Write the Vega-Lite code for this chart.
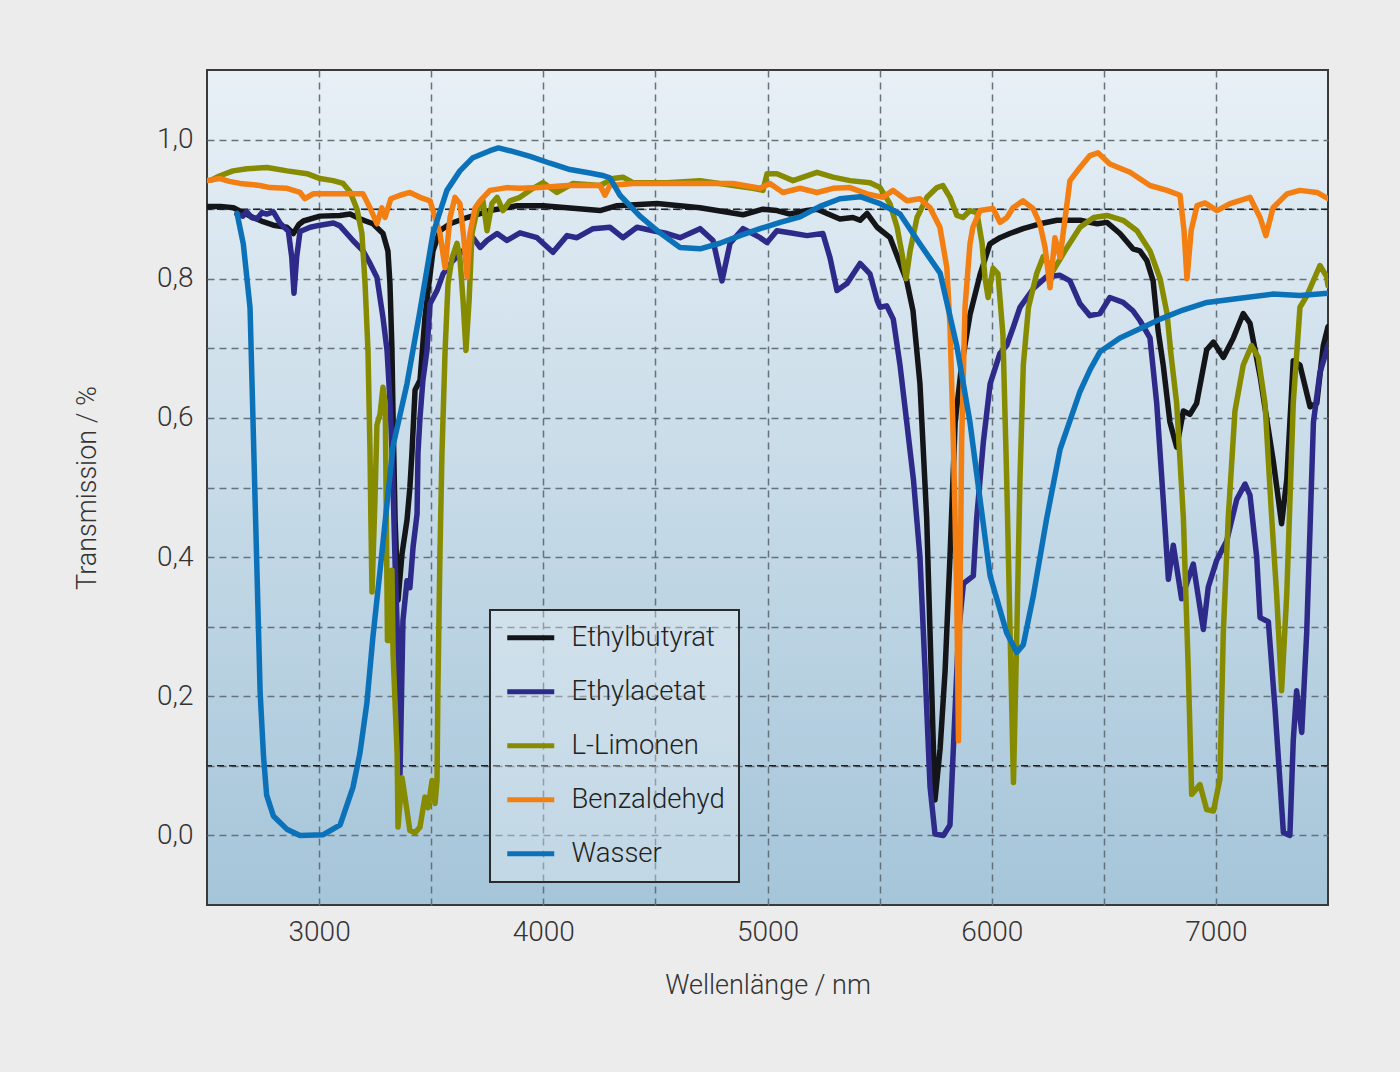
{
  "$schema": "https://vega.github.io/schema/vega-lite/v6.json",
  "width": 1121,
  "height": 835,
  "autosize": {"type": "none"},
  "padding": {"left": 207, "top": 70, "right": 72, "bottom": 167},
  "background": "#ececec",
  "config": {
    "font": "Roboto",
    "view": {
      "stroke": "#3a3a3a",
      "strokeWidth": 2,
      "fill": {"gradient": "linear", "x1": 0, "y1": 0, "x2": 0, "y2": 1,
        "stops": [{"offset": 0, "color": "#e8f0f6"}, {"offset": 1, "color": "#a5c5d9"}]}
    },
    "axis": {
      "domain": false,
      "ticks": false,
      "grid": true,
      "gridColor": "#66727b",
      "gridDash": [7, 5],
      "gridWidth": 1.5,
      "labelFont": "Roboto",
      "labelFontSize": 28,
      "labelFontWeight": 300,
      "labelColor": "#333333",
      "titleFont": "Roboto",
      "titleFontSize": 27,
      "titleFontWeight": 300,
      "titleColor": "#333333"
    },
    "legend": {
      "orient": "none",
      "legendX": 283,
      "legendY": 540,
      "symbolType": "M-2.35,0H2.35",
      "symbolSize": 400,
      "symbolStrokeWidth": 5,
      "symbolOffset": 13,
      "labelFont": "Roboto",
      "labelFontSize": 27.5,
      "labelFontWeight": 300,
      "labelColor": "#222222",
      "labelOffset": 27,
      "padding": 14,
      "rowPadding": 25,
      "strokeColor": "#2a2a2a",
      "strokeWidth": 2,
      "fillColor": "rgba(255,255,255,0.3)"
    }
  },
  "data": {
    "values": [
      {"s":"Ethylbutyrat","x":2500,"y":0.904},{"s":"Ethylbutyrat","x":2560,"y":0.904},{"s":"Ethylbutyrat","x":2618,"y":0.902},{"s":"Ethylbutyrat","x":2692,"y":0.89},{"s":"Ethylbutyrat","x":2750,"y":0.882},{"s":"Ethylbutyrat","x":2796,"y":0.877},{"s":"Ethylbutyrat","x":2856,"y":0.874},{"s":"Ethylbutyrat","x":2885,"y":0.865},{"s":"Ethylbutyrat","x":2910,"y":0.878},{"s":"Ethylbutyrat","x":2930,"y":0.883},{"s":"Ethylbutyrat","x":3004,"y":0.89},{"s":"Ethylbutyrat","x":3093,"y":0.891},{"s":"Ethylbutyrat","x":3138,"y":0.893},{"s":"Ethylbutyrat","x":3182,"y":0.886},{"s":"Ethylbutyrat","x":3240,"y":0.879},{"s":"Ethylbutyrat","x":3285,"y":0.865},{"s":"Ethylbutyrat","x":3307,"y":0.84},{"s":"Ethylbutyrat","x":3316,"y":0.793},{"s":"Ethylbutyrat","x":3325,"y":0.697},{"s":"Ethylbutyrat","x":3330,"y":0.6},{"s":"Ethylbutyrat","x":3339,"y":0.453},{"s":"Ethylbutyrat","x":3352,"y":0.338},{"s":"Ethylbutyrat","x":3370,"y":0.405},{"s":"Ethylbutyrat","x":3392,"y":0.453},{"s":"Ethylbutyrat","x":3405,"y":0.5},{"s":"Ethylbutyrat","x":3414,"y":0.549},{"s":"Ethylbutyrat","x":3428,"y":0.64},{"s":"Ethylbutyrat","x":3450,"y":0.654},{"s":"Ethylbutyrat","x":3472,"y":0.744},{"s":"Ethylbutyrat","x":3486,"y":0.783},{"s":"Ethylbutyrat","x":3508,"y":0.84},{"s":"Ethylbutyrat","x":3539,"y":0.869},{"s":"Ethylbutyrat","x":3584,"y":0.879},{"s":"Ethylbutyrat","x":3660,"y":0.888},{"s":"Ethylbutyrat","x":3762,"y":0.898},{"s":"Ethylbutyrat","x":3883,"y":0.905},{"s":"Ethylbutyrat","x":3999,"y":0.905},{"s":"Ethylbutyrat","x":4253,"y":0.898},{"s":"Ethylbutyrat","x":4329,"y":0.905},{"s":"Ethylbutyrat","x":4507,"y":0.908},{"s":"Ethylbutyrat","x":4699,"y":0.902},{"s":"Ethylbutyrat","x":4891,"y":0.892},{"s":"Ethylbutyrat","x":4980,"y":0.9},{"s":"Ethylbutyrat","x":5042,"y":0.898},{"s":"Ethylbutyrat","x":5100,"y":0.893},{"s":"Ethylbutyrat","x":5176,"y":0.898},{"s":"Ethylbutyrat","x":5221,"y":0.9},{"s":"Ethylbutyrat","x":5323,"y":0.886},{"s":"Ethylbutyrat","x":5381,"y":0.888},{"s":"Ethylbutyrat","x":5413,"y":0.884},{"s":"Ethylbutyrat","x":5444,"y":0.894},{"s":"Ethylbutyrat","x":5489,"y":0.874},{"s":"Ethylbutyrat","x":5547,"y":0.859},{"s":"Ethylbutyrat","x":5591,"y":0.822},{"s":"Ethylbutyrat","x":5621,"y":0.797},{"s":"Ethylbutyrat","x":5649,"y":0.754},{"s":"Ethylbutyrat","x":5680,"y":0.649},{"s":"Ethylbutyrat","x":5710,"y":0.456},{"s":"Ethylbutyrat","x":5725,"y":0.291},{"s":"Ethylbutyrat","x":5740,"y":0.125},{"s":"Ethylbutyrat","x":5747,"y":0.051},{"s":"Ethylbutyrat","x":5770,"y":0.125},{"s":"Ethylbutyrat","x":5792,"y":0.236},{"s":"Ethylbutyrat","x":5814,"y":0.401},{"s":"Ethylbutyrat","x":5837,"y":0.594},{"s":"Ethylbutyrat","x":5866,"y":0.676},{"s":"Ethylbutyrat","x":5903,"y":0.748},{"s":"Ethylbutyrat","x":5948,"y":0.806},{"s":"Ethylbutyrat","x":5992,"y":0.85},{"s":"Ethylbutyrat","x":6037,"y":0.859},{"s":"Ethylbutyrat","x":6081,"y":0.865},{"s":"Ethylbutyrat","x":6140,"y":0.872},{"s":"Ethylbutyrat","x":6215,"y":0.879},{"s":"Ethylbutyrat","x":6291,"y":0.884},{"s":"Ethylbutyrat","x":6394,"y":0.884},{"s":"Ethylbutyrat","x":6470,"y":0.879},{"s":"Ethylbutyrat","x":6514,"y":0.881},{"s":"Ethylbutyrat","x":6572,"y":0.865},{"s":"Ethylbutyrat","x":6630,"y":0.843},{"s":"Ethylbutyrat","x":6661,"y":0.84},{"s":"Ethylbutyrat","x":6692,"y":0.826},{"s":"Ethylbutyrat","x":6720,"y":0.797},{"s":"Ethylbutyrat","x":6742,"y":0.726},{"s":"Ethylbutyrat","x":6765,"y":0.676},{"s":"Ethylbutyrat","x":6795,"y":0.594},{"s":"Ethylbutyrat","x":6825,"y":0.558},{"s":"Ethylbutyrat","x":6855,"y":0.61},{"s":"Ethylbutyrat","x":6884,"y":0.605},{"s":"Ethylbutyrat","x":6914,"y":0.621},{"s":"Ethylbutyrat","x":6959,"y":0.698},{"s":"Ethylbutyrat","x":6989,"y":0.709},{"s":"Ethylbutyrat","x":7033,"y":0.687},{"s":"Ethylbutyrat","x":7078,"y":0.715},{"s":"Ethylbutyrat","x":7122,"y":0.75},{"s":"Ethylbutyrat","x":7152,"y":0.736},{"s":"Ethylbutyrat","x":7197,"y":0.66},{"s":"Ethylbutyrat","x":7256,"y":0.538},{"s":"Ethylbutyrat","x":7293,"y":0.448},{"s":"Ethylbutyrat","x":7316,"y":0.511},{"s":"Ethylbutyrat","x":7345,"y":0.682},{"s":"Ethylbutyrat","x":7375,"y":0.676},{"s":"Ethylbutyrat","x":7420,"y":0.616},{"s":"Ethylbutyrat","x":7450,"y":0.621},{"s":"Ethylbutyrat","x":7479,"y":0.704},{"s":"Ethylbutyrat","x":7500,"y":0.731},

      {"s":"Ethylacetat","x":2633,"y":0.893},{"s":"Ethylacetat","x":2660,"y":0.89},{"s":"Ethylacetat","x":2677,"y":0.896},{"s":"Ethylacetat","x":2700,"y":0.888},{"s":"Ethylacetat","x":2722,"y":0.886},{"s":"Ethylacetat","x":2745,"y":0.895},{"s":"Ethylacetat","x":2766,"y":0.893},{"s":"Ethylacetat","x":2796,"y":0.896},{"s":"Ethylacetat","x":2826,"y":0.88},{"s":"Ethylacetat","x":2863,"y":0.868},{"s":"Ethylacetat","x":2878,"y":0.831},{"s":"Ethylacetat","x":2888,"y":0.779},{"s":"Ethylacetat","x":2900,"y":0.831},{"s":"Ethylacetat","x":2915,"y":0.868},{"s":"Ethylacetat","x":2960,"y":0.874},{"s":"Ethylacetat","x":3004,"y":0.877},{"s":"Ethylacetat","x":3064,"y":0.88},{"s":"Ethylacetat","x":3093,"y":0.876},{"s":"Ethylacetat","x":3151,"y":0.855},{"s":"Ethylacetat","x":3196,"y":0.84},{"s":"Ethylacetat","x":3227,"y":0.822},{"s":"Ethylacetat","x":3258,"y":0.802},{"s":"Ethylacetat","x":3285,"y":0.744},{"s":"Ethylacetat","x":3303,"y":0.697},{"s":"Ethylacetat","x":3316,"y":0.625},{"s":"Ethylacetat","x":3325,"y":0.553},{"s":"Ethylacetat","x":3330,"y":0.5},{"s":"Ethylacetat","x":3339,"y":0.391},{"s":"Ethylacetat","x":3352,"y":0.261},{"s":"Ethylacetat","x":3361,"y":0.089},{"s":"Ethylacetat","x":3374,"y":0.309},{"s":"Ethylacetat","x":3392,"y":0.366},{"s":"Ethylacetat","x":3405,"y":0.356},{"s":"Ethylacetat","x":3419,"y":0.414},{"s":"Ethylacetat","x":3437,"y":0.462},{"s":"Ethylacetat","x":3441,"y":0.549},{"s":"Ethylacetat","x":3450,"y":0.6},{"s":"Ethylacetat","x":3463,"y":0.654},{"s":"Ethylacetat","x":3481,"y":0.697},{"s":"Ethylacetat","x":3495,"y":0.764},{"s":"Ethylacetat","x":3526,"y":0.783},{"s":"Ethylacetat","x":3553,"y":0.807},{"s":"Ethylacetat","x":3597,"y":0.826},{"s":"Ethylacetat","x":3642,"y":0.84},{"s":"Ethylacetat","x":3686,"y":0.859},{"s":"Ethylacetat","x":3718,"y":0.845},{"s":"Ethylacetat","x":3749,"y":0.855},{"s":"Ethylacetat","x":3794,"y":0.865},{"s":"Ethylacetat","x":3838,"y":0.855},{"s":"Ethylacetat","x":3896,"y":0.866},{"s":"Ethylacetat","x":3972,"y":0.859},{"s":"Ethylacetat","x":4043,"y":0.838},{"s":"Ethylacetat","x":4106,"y":0.862},{"s":"Ethylacetat","x":4150,"y":0.859},{"s":"Ethylacetat","x":4222,"y":0.872},{"s":"Ethylacetat","x":4297,"y":0.874},{"s":"Ethylacetat","x":4355,"y":0.859},{"s":"Ethylacetat","x":4418,"y":0.874},{"s":"Ethylacetat","x":4489,"y":0.869},{"s":"Ethylacetat","x":4552,"y":0.865},{"s":"Ethylacetat","x":4610,"y":0.859},{"s":"Ethylacetat","x":4699,"y":0.872},{"s":"Ethylacetat","x":4757,"y":0.855},{"s":"Ethylacetat","x":4797,"y":0.797},{"s":"Ethylacetat","x":4833,"y":0.851},{"s":"Ethylacetat","x":4891,"y":0.872},{"s":"Ethylacetat","x":4967,"y":0.859},{"s":"Ethylacetat","x":4998,"y":0.852},{"s":"Ethylacetat","x":5042,"y":0.869},{"s":"Ethylacetat","x":5100,"y":0.866},{"s":"Ethylacetat","x":5176,"y":0.862},{"s":"Ethylacetat","x":5247,"y":0.865},{"s":"Ethylacetat","x":5279,"y":0.83},{"s":"Ethylacetat","x":5310,"y":0.783},{"s":"Ethylacetat","x":5354,"y":0.793},{"s":"Ethylacetat","x":5413,"y":0.822},{"s":"Ethylacetat","x":5457,"y":0.807},{"s":"Ethylacetat","x":5489,"y":0.769},{"s":"Ethylacetat","x":5502,"y":0.759},{"s":"Ethylacetat","x":5532,"y":0.761},{"s":"Ethylacetat","x":5561,"y":0.742},{"s":"Ethylacetat","x":5591,"y":0.676},{"s":"Ethylacetat","x":5621,"y":0.594},{"s":"Ethylacetat","x":5651,"y":0.511},{"s":"Ethylacetat","x":5680,"y":0.4},{"s":"Ethylacetat","x":5703,"y":0.236},{"s":"Ethylacetat","x":5725,"y":0.07},{"s":"Ethylacetat","x":5747,"y":0.002},{"s":"Ethylacetat","x":5785,"y":0.0},{"s":"Ethylacetat","x":5814,"y":0.015},{"s":"Ethylacetat","x":5829,"y":0.125},{"s":"Ethylacetat","x":5852,"y":0.291},{"s":"Ethylacetat","x":5874,"y":0.362},{"s":"Ethylacetat","x":5918,"y":0.373},{"s":"Ethylacetat","x":5933,"y":0.456},{"s":"Ethylacetat","x":5963,"y":0.566},{"s":"Ethylacetat","x":5993,"y":0.649},{"s":"Ethylacetat","x":6037,"y":0.693},{"s":"Ethylacetat","x":6067,"y":0.704},{"s":"Ethylacetat","x":6097,"y":0.731},{"s":"Ethylacetat","x":6126,"y":0.759},{"s":"Ethylacetat","x":6186,"y":0.786},{"s":"Ethylacetat","x":6245,"y":0.803},{"s":"Ethylacetat","x":6305,"y":0.805},{"s":"Ethylacetat","x":6349,"y":0.797},{"s":"Ethylacetat","x":6394,"y":0.764},{"s":"Ethylacetat","x":6438,"y":0.747},{"s":"Ethylacetat","x":6483,"y":0.75},{"s":"Ethylacetat","x":6527,"y":0.773},{"s":"Ethylacetat","x":6586,"y":0.766},{"s":"Ethylacetat","x":6630,"y":0.754},{"s":"Ethylacetat","x":6661,"y":0.74},{"s":"Ethylacetat","x":6706,"y":0.715},{"s":"Ethylacetat","x":6736,"y":0.621},{"s":"Ethylacetat","x":6765,"y":0.483},{"s":"Ethylacetat","x":6788,"y":0.368},{"s":"Ethylacetat","x":6810,"y":0.417},{"s":"Ethylacetat","x":6847,"y":0.34},{"s":"Ethylacetat","x":6899,"y":0.39},{"s":"Ethylacetat","x":6944,"y":0.296},{"s":"Ethylacetat","x":6966,"y":0.357},{"s":"Ethylacetat","x":7003,"y":0.395},{"s":"Ethylacetat","x":7048,"y":0.423},{"s":"Ethylacetat","x":7093,"y":0.483},{"s":"Ethylacetat","x":7130,"y":0.505},{"s":"Ethylacetat","x":7152,"y":0.489},{"s":"Ethylacetat","x":7182,"y":0.4},{"s":"Ethylacetat","x":7197,"y":0.313},{"s":"Ethylacetat","x":7234,"y":0.307},{"s":"Ethylacetat","x":7264,"y":0.181},{"s":"Ethylacetat","x":7301,"y":0.004},{"s":"Ethylacetat","x":7330,"y":0.0},{"s":"Ethylacetat","x":7345,"y":0.136},{"s":"Ethylacetat","x":7360,"y":0.208},{"s":"Ethylacetat","x":7383,"y":0.148},{"s":"Ethylacetat","x":7405,"y":0.291},{"s":"Ethylacetat","x":7435,"y":0.594},{"s":"Ethylacetat","x":7464,"y":0.665},{"s":"Ethylacetat","x":7500,"y":0.704},

      {"s":"L-Limonen","x":2520,"y":0.942},{"s":"L-Limonen","x":2558,"y":0.948},{"s":"L-Limonen","x":2616,"y":0.955},{"s":"L-Limonen","x":2678,"y":0.958},{"s":"L-Limonen","x":2768,"y":0.96},{"s":"L-Limonen","x":2857,"y":0.955},{"s":"L-Limonen","x":2946,"y":0.951},{"s":"L-Limonen","x":3004,"y":0.944},{"s":"L-Limonen","x":3062,"y":0.941},{"s":"L-Limonen","x":3107,"y":0.937},{"s":"L-Limonen","x":3138,"y":0.925},{"s":"L-Limonen","x":3169,"y":0.9},{"s":"L-Limonen","x":3191,"y":0.865},{"s":"L-Limonen","x":3205,"y":0.793},{"s":"L-Limonen","x":3218,"y":0.697},{"s":"L-Limonen","x":3227,"y":0.553},{"s":"L-Limonen","x":3231,"y":0.453},{"s":"L-Limonen","x":3236,"y":0.35},{"s":"L-Limonen","x":3249,"y":0.481},{"s":"L-Limonen","x":3258,"y":0.59},{"s":"L-Limonen","x":3272,"y":0.606},{"s":"L-Limonen","x":3285,"y":0.644},{"s":"L-Limonen","x":3295,"y":0.62},{"s":"L-Limonen","x":3300,"y":0.45},{"s":"L-Limonen","x":3305,"y":0.28},{"s":"L-Limonen","x":3316,"y":0.28},{"s":"L-Limonen","x":3325,"y":0.381},{"s":"L-Limonen","x":3330,"y":0.261},{"s":"L-Limonen","x":3348,"y":0.118},{"s":"L-Limonen","x":3352,"y":0.012},{"s":"L-Limonen","x":3370,"y":0.083},{"s":"L-Limonen","x":3383,"y":0.055},{"s":"L-Limonen","x":3405,"y":0.007},{"s":"L-Limonen","x":3428,"y":0.004},{"s":"L-Limonen","x":3450,"y":0.012},{"s":"L-Limonen","x":3472,"y":0.055},{"s":"L-Limonen","x":3486,"y":0.04},{"s":"L-Limonen","x":3504,"y":0.079},{"s":"L-Limonen","x":3517,"y":0.046},{"s":"L-Limonen","x":3526,"y":0.079},{"s":"L-Limonen","x":3530,"y":0.213},{"s":"L-Limonen","x":3539,"y":0.405},{"s":"L-Limonen","x":3548,"y":0.549},{"s":"L-Limonen","x":3562,"y":0.697},{"s":"L-Limonen","x":3575,"y":0.793},{"s":"L-Limonen","x":3593,"y":0.83},{"s":"L-Limonen","x":3615,"y":0.851},{"s":"L-Limonen","x":3628,"y":0.83},{"s":"L-Limonen","x":3642,"y":0.769},{"s":"L-Limonen","x":3655,"y":0.697},{"s":"L-Limonen","x":3669,"y":0.769},{"s":"L-Limonen","x":3682,"y":0.865},{"s":"L-Limonen","x":3704,"y":0.898},{"s":"L-Limonen","x":3731,"y":0.912},{"s":"L-Limonen","x":3749,"y":0.869},{"s":"L-Limonen","x":3771,"y":0.908},{"s":"L-Limonen","x":3794,"y":0.917},{"s":"L-Limonen","x":3820,"y":0.898},{"s":"L-Limonen","x":3851,"y":0.912},{"s":"L-Limonen","x":3896,"y":0.917},{"s":"L-Limonen","x":3954,"y":0.93},{"s":"L-Limonen","x":3999,"y":0.938},{"s":"L-Limonen","x":4061,"y":0.924},{"s":"L-Limonen","x":4133,"y":0.937},{"s":"L-Limonen","x":4253,"y":0.934},{"s":"L-Limonen","x":4311,"y":0.944},{"s":"L-Limonen","x":4355,"y":0.946},{"s":"L-Limonen","x":4400,"y":0.938},{"s":"L-Limonen","x":4552,"y":0.938},{"s":"L-Limonen","x":4699,"y":0.941},{"s":"L-Limonen","x":4846,"y":0.934},{"s":"L-Limonen","x":4935,"y":0.93},{"s":"L-Limonen","x":4980,"y":0.927},{"s":"L-Limonen","x":4998,"y":0.951},{"s":"L-Limonen","x":5042,"y":0.951},{"s":"L-Limonen","x":5114,"y":0.941},{"s":"L-Limonen","x":5221,"y":0.953},{"s":"L-Limonen","x":5292,"y":0.946},{"s":"L-Limonen","x":5368,"y":0.941},{"s":"L-Limonen","x":5457,"y":0.938},{"s":"L-Limonen","x":5502,"y":0.931},{"s":"L-Limonen","x":5546,"y":0.908},{"s":"L-Limonen","x":5578,"y":0.874},{"s":"L-Limonen","x":5600,"y":0.836},{"s":"L-Limonen","x":5618,"y":0.8},{"s":"L-Limonen","x":5636,"y":0.84},{"s":"L-Limonen","x":5667,"y":0.888},{"s":"L-Limonen","x":5711,"y":0.917},{"s":"L-Limonen","x":5756,"y":0.931},{"s":"L-Limonen","x":5782,"y":0.934},{"s":"L-Limonen","x":5814,"y":0.917},{"s":"L-Limonen","x":5845,"y":0.891},{"s":"L-Limonen","x":5872,"y":0.888},{"s":"L-Limonen","x":5903,"y":0.898},{"s":"L-Limonen","x":5934,"y":0.895},{"s":"L-Limonen","x":5957,"y":0.851},{"s":"L-Limonen","x":5970,"y":0.802},{"s":"L-Limonen","x":5984,"y":0.773},{"s":"L-Limonen","x":6006,"y":0.815},{"s":"L-Limonen","x":6028,"y":0.807},{"s":"L-Limonen","x":6050,"y":0.72},{"s":"L-Limonen","x":6067,"y":0.511},{"s":"L-Limonen","x":6082,"y":0.291},{"s":"L-Limonen","x":6097,"y":0.076},{"s":"L-Limonen","x":6112,"y":0.291},{"s":"L-Limonen","x":6126,"y":0.511},{"s":"L-Limonen","x":6141,"y":0.676},{"s":"L-Limonen","x":6164,"y":0.759},{"s":"L-Limonen","x":6201,"y":0.808},{"s":"L-Limonen","x":6230,"y":0.832},{"s":"L-Limonen","x":6275,"y":0.812},{"s":"L-Limonen","x":6336,"y":0.845},{"s":"L-Limonen","x":6394,"y":0.874},{"s":"L-Limonen","x":6455,"y":0.888},{"s":"L-Limonen","x":6514,"y":0.891},{"s":"L-Limonen","x":6586,"y":0.884},{"s":"L-Limonen","x":6648,"y":0.869},{"s":"L-Limonen","x":6706,"y":0.84},{"s":"L-Limonen","x":6751,"y":0.8},{"s":"L-Limonen","x":6782,"y":0.75},{"s":"L-Limonen","x":6800,"y":0.69},{"s":"L-Limonen","x":6825,"y":0.621},{"s":"L-Limonen","x":6855,"y":0.456},{"s":"L-Limonen","x":6877,"y":0.236},{"s":"L-Limonen","x":6892,"y":0.059},{"s":"L-Limonen","x":6929,"y":0.073},{"s":"L-Limonen","x":6959,"y":0.037},{"s":"L-Limonen","x":6989,"y":0.035},{"s":"L-Limonen","x":7018,"y":0.081},{"s":"L-Limonen","x":7033,"y":0.291},{"s":"L-Limonen","x":7055,"y":0.456},{"s":"L-Limonen","x":7085,"y":0.61},{"s":"L-Limonen","x":7122,"y":0.676},{"s":"L-Limonen","x":7159,"y":0.704},{"s":"L-Limonen","x":7189,"y":0.687},{"s":"L-Limonen","x":7219,"y":0.621},{"s":"L-Limonen","x":7249,"y":0.456},{"s":"L-Limonen","x":7271,"y":0.346},{"s":"L-Limonen","x":7293,"y":0.208},{"s":"L-Limonen","x":7316,"y":0.346},{"s":"L-Limonen","x":7345,"y":0.621},{"s":"L-Limonen","x":7375,"y":0.759},{"s":"L-Limonen","x":7405,"y":0.775},{"s":"L-Limonen","x":7464,"y":0.819},{"s":"L-Limonen","x":7494,"y":0.803},{"s":"L-Limonen","x":7500,"y":0.79},

      {"s":"Benzaldehyd","x":2500,"y":0.941},{"s":"Benzaldehyd","x":2558,"y":0.944},{"s":"Benzaldehyd","x":2600,"y":0.94},{"s":"Benzaldehyd","x":2647,"y":0.937},{"s":"Benzaldehyd","x":2736,"y":0.934},{"s":"Benzaldehyd","x":2781,"y":0.931},{"s":"Benzaldehyd","x":2857,"y":0.93},{"s":"Benzaldehyd","x":2915,"y":0.924},{"s":"Benzaldehyd","x":2937,"y":0.915},{"s":"Benzaldehyd","x":2973,"y":0.922},{"s":"Benzaldehyd","x":3062,"y":0.922},{"s":"Benzaldehyd","x":3151,"y":0.922},{"s":"Benzaldehyd","x":3196,"y":0.922},{"s":"Benzaldehyd","x":3227,"y":0.902},{"s":"Benzaldehyd","x":3258,"y":0.879},{"s":"Benzaldehyd","x":3280,"y":0.902},{"s":"Benzaldehyd","x":3294,"y":0.888},{"s":"Benzaldehyd","x":3320,"y":0.915},{"s":"Benzaldehyd","x":3361,"y":0.92},{"s":"Benzaldehyd","x":3405,"y":0.924},{"s":"Benzaldehyd","x":3450,"y":0.917},{"s":"Benzaldehyd","x":3495,"y":0.912},{"s":"Benzaldehyd","x":3508,"y":0.898},{"s":"Benzaldehyd","x":3539,"y":0.865},{"s":"Benzaldehyd","x":3562,"y":0.816},{"s":"Benzaldehyd","x":3584,"y":0.888},{"s":"Benzaldehyd","x":3606,"y":0.917},{"s":"Benzaldehyd","x":3628,"y":0.908},{"s":"Benzaldehyd","x":3645,"y":0.86},{"s":"Benzaldehyd","x":3660,"y":0.802},{"s":"Benzaldehyd","x":3673,"y":0.865},{"s":"Benzaldehyd","x":3696,"y":0.902},{"s":"Benzaldehyd","x":3718,"y":0.912},{"s":"Benzaldehyd","x":3762,"y":0.927},{"s":"Benzaldehyd","x":3838,"y":0.931},{"s":"Benzaldehyd","x":3896,"y":0.93},{"s":"Benzaldehyd","x":3985,"y":0.931},{"s":"Benzaldehyd","x":4106,"y":0.934},{"s":"Benzaldehyd","x":4253,"y":0.934},{"s":"Benzaldehyd","x":4275,"y":0.92},{"s":"Benzaldehyd","x":4297,"y":0.934},{"s":"Benzaldehyd","x":4400,"y":0.937},{"s":"Benzaldehyd","x":4552,"y":0.937},{"s":"Benzaldehyd","x":4699,"y":0.937},{"s":"Benzaldehyd","x":4846,"y":0.937},{"s":"Benzaldehyd","x":4967,"y":0.93},{"s":"Benzaldehyd","x":5011,"y":0.937},{"s":"Benzaldehyd","x":5069,"y":0.924},{"s":"Benzaldehyd","x":5145,"y":0.93},{"s":"Benzaldehyd","x":5221,"y":0.924},{"s":"Benzaldehyd","x":5292,"y":0.93},{"s":"Benzaldehyd","x":5368,"y":0.931},{"s":"Benzaldehyd","x":5444,"y":0.922},{"s":"Benzaldehyd","x":5515,"y":0.917},{"s":"Benzaldehyd","x":5560,"y":0.927},{"s":"Benzaldehyd","x":5622,"y":0.912},{"s":"Benzaldehyd","x":5680,"y":0.915},{"s":"Benzaldehyd","x":5725,"y":0.902},{"s":"Benzaldehyd","x":5769,"y":0.874},{"s":"Benzaldehyd","x":5800,"y":0.816},{"s":"Benzaldehyd","x":5814,"y":0.731},{"s":"Benzaldehyd","x":5829,"y":0.566},{"s":"Benzaldehyd","x":5844,"y":0.346},{"s":"Benzaldehyd","x":5852,"y":0.136},{"s":"Benzaldehyd","x":5859,"y":0.346},{"s":"Benzaldehyd","x":5866,"y":0.566},{"s":"Benzaldehyd","x":5881,"y":0.759},{"s":"Benzaldehyd","x":5903,"y":0.85},{"s":"Benzaldehyd","x":5916,"y":0.874},{"s":"Benzaldehyd","x":5948,"y":0.898},{"s":"Benzaldehyd","x":6006,"y":0.901},{"s":"Benzaldehyd","x":6037,"y":0.881},{"s":"Benzaldehyd","x":6068,"y":0.888},{"s":"Benzaldehyd","x":6095,"y":0.902},{"s":"Benzaldehyd","x":6140,"y":0.912},{"s":"Benzaldehyd","x":6184,"y":0.901},{"s":"Benzaldehyd","x":6215,"y":0.879},{"s":"Benzaldehyd","x":6238,"y":0.845},{"s":"Benzaldehyd","x":6260,"y":0.787},{"s":"Benzaldehyd","x":6282,"y":0.859},{"s":"Benzaldehyd","x":6305,"y":0.831},{"s":"Benzaldehyd","x":6349,"y":0.941},{"s":"Benzaldehyd","x":6394,"y":0.96},{"s":"Benzaldehyd","x":6438,"y":0.977},{"s":"Benzaldehyd","x":6474,"y":0.981},{"s":"Benzaldehyd","x":6527,"y":0.965},{"s":"Benzaldehyd","x":6617,"y":0.953},{"s":"Benzaldehyd","x":6706,"y":0.934},{"s":"Benzaldehyd","x":6782,"y":0.927},{"s":"Benzaldehyd","x":6840,"y":0.92},{"s":"Benzaldehyd","x":6858,"y":0.869},{"s":"Benzaldehyd","x":6871,"y":0.8},{"s":"Benzaldehyd","x":6890,"y":0.87},{"s":"Benzaldehyd","x":6916,"y":0.905},{"s":"Benzaldehyd","x":6951,"y":0.909},{"s":"Benzaldehyd","x":7005,"y":0.898},{"s":"Benzaldehyd","x":7063,"y":0.908},{"s":"Benzaldehyd","x":7152,"y":0.917},{"s":"Benzaldehyd","x":7197,"y":0.888},{"s":"Benzaldehyd","x":7223,"y":0.862},{"s":"Benzaldehyd","x":7255,"y":0.902},{"s":"Benzaldehyd","x":7317,"y":0.922},{"s":"Benzaldehyd","x":7375,"y":0.927},{"s":"Benzaldehyd","x":7451,"y":0.924},{"s":"Benzaldehyd","x":7500,"y":0.915},

      {"s":"Wasser","x":2634,"y":0.894},{"s":"Wasser","x":2662,"y":0.85},{"s":"Wasser","x":2692,"y":0.758},{"s":"Wasser","x":2707,"y":0.574},{"s":"Wasser","x":2722,"y":0.39},{"s":"Wasser","x":2737,"y":0.206},{"s":"Wasser","x":2752,"y":0.114},{"s":"Wasser","x":2766,"y":0.058},{"s":"Wasser","x":2796,"y":0.028},{"s":"Wasser","x":2856,"y":0.009},{"s":"Wasser","x":2915,"y":0.0},{"s":"Wasser","x":3019,"y":0.001},{"s":"Wasser","x":3094,"y":0.015},{"s":"Wasser","x":3151,"y":0.069},{"s":"Wasser","x":3182,"y":0.118},{"s":"Wasser","x":3213,"y":0.19},{"s":"Wasser","x":3240,"y":0.285},{"s":"Wasser","x":3272,"y":0.381},{"s":"Wasser","x":3303,"y":0.477},{"s":"Wasser","x":3330,"y":0.56},{"s":"Wasser","x":3392,"y":0.649},{"s":"Wasser","x":3450,"y":0.754},{"s":"Wasser","x":3508,"y":0.865},{"s":"Wasser","x":3570,"y":0.927},{"s":"Wasser","x":3628,"y":0.955},{"s":"Wasser","x":3686,"y":0.974},{"s":"Wasser","x":3762,"y":0.984},{"s":"Wasser","x":3800,"y":0.988},{"s":"Wasser","x":3851,"y":0.984},{"s":"Wasser","x":3941,"y":0.976},{"s":"Wasser","x":4030,"y":0.966},{"s":"Wasser","x":4119,"y":0.957},{"s":"Wasser","x":4208,"y":0.952},{"s":"Wasser","x":4270,"y":0.948},{"s":"Wasser","x":4297,"y":0.945},{"s":"Wasser","x":4342,"y":0.92},{"s":"Wasser","x":4431,"y":0.89},{"s":"Wasser","x":4520,"y":0.866},{"s":"Wasser","x":4610,"y":0.845},{"s":"Wasser","x":4699,"y":0.843},{"s":"Wasser","x":4788,"y":0.851},{"s":"Wasser","x":4877,"y":0.862},{"s":"Wasser","x":4967,"y":0.872},{"s":"Wasser","x":5056,"y":0.881},{"s":"Wasser","x":5145,"y":0.889},{"s":"Wasser","x":5234,"y":0.904},{"s":"Wasser","x":5323,"y":0.915},{"s":"Wasser","x":5413,"y":0.918},{"s":"Wasser","x":5502,"y":0.908},{"s":"Wasser","x":5591,"y":0.893},{"s":"Wasser","x":5680,"y":0.85},{"s":"Wasser","x":5770,"y":0.808},{"s":"Wasser","x":5844,"y":0.704},{"s":"Wasser","x":5903,"y":0.594},{"s":"Wasser","x":5948,"y":0.483},{"s":"Wasser","x":5993,"y":0.373},{"s":"Wasser","x":6067,"y":0.291},{"s":"Wasser","x":6112,"y":0.263},{"s":"Wasser","x":6141,"y":0.274},{"s":"Wasser","x":6186,"y":0.345},{"s":"Wasser","x":6245,"y":0.455},{"s":"Wasser","x":6305,"y":0.555},{"s":"Wasser","x":6394,"y":0.638},{"s":"Wasser","x":6440,"y":0.67},{"s":"Wasser","x":6483,"y":0.695},{"s":"Wasser","x":6572,"y":0.715},{"s":"Wasser","x":6661,"y":0.728},{"s":"Wasser","x":6751,"y":0.742},{"s":"Wasser","x":6853,"y":0.755},{"s":"Wasser","x":6960,"y":0.766},{"s":"Wasser","x":7107,"y":0.772},{"s":"Wasser","x":7255,"y":0.778},{"s":"Wasser","x":7375,"y":0.776},{"s":"Wasser","x":7500,"y":0.779}
    ]
  },
  "layer": [
    {
      "data": {"values": [{"y": 0.1}, {"y": 0.9}]},
      "mark": {"type": "rule", "strokeDash": [7, 5], "color": "#1f2326", "strokeWidth": 1.5},
      "encoding": {
        "y": {"field": "y", "type": "quantitative", "title": "Transmission / %",
          "scale": {"domain": [-0.1, 1.1], "nice": false, "zero": false}}
      }
    },
    {
      "mark": {"type": "line", "strokeWidth": 5.5, "strokeCap": "round", "strokeJoin": "round", "clip": true},
      "encoding": {
        "x": {
          "field": "x", "type": "quantitative", "title": "Wellenlänge / nm",
          "scale": {"domain": [2500, 7500], "nice": false, "zero": false},
          "axis": {
            "values": [3000, 3500, 4000, 4500, 5000, 5500, 6000, 6500, 7000],
            "labelExpr": "datum.value % 1000 === 0 ? format(datum.value, 'd') : ''",
            "labelPadding": 13,
            "titlePadding": 26
          }
        },
        "y": {
          "field": "y", "type": "quantitative", "title": "Transmission / %",
          "scale": {"domain": [-0.1, 1.1], "nice": false, "zero": false},
          "axis": {
            "values": [0, 0.1, 0.2, 0.3, 0.4, 0.5, 0.6, 0.7, 0.8, 0.9, 1.0],
            "labelExpr": "round(datum.value * 10) % 2 === 0 ? replace(format(datum.value, '.1f'), '.', ',') : ''",
            "labelPadding": 14,
            "titlePadding": 55
          }
        },
        "color": {
          "field": "s", "type": "nominal", "title": null,
          "scale": {
            "domain": ["Ethylbutyrat", "Ethylacetat", "L-Limonen", "Benzaldehyd", "Wasser"],
            "range": ["#141518", "#2e2a8a", "#868b00", "#f37f12", "#0b72b9"]
          }
        }
      }
    }
  ]
}
